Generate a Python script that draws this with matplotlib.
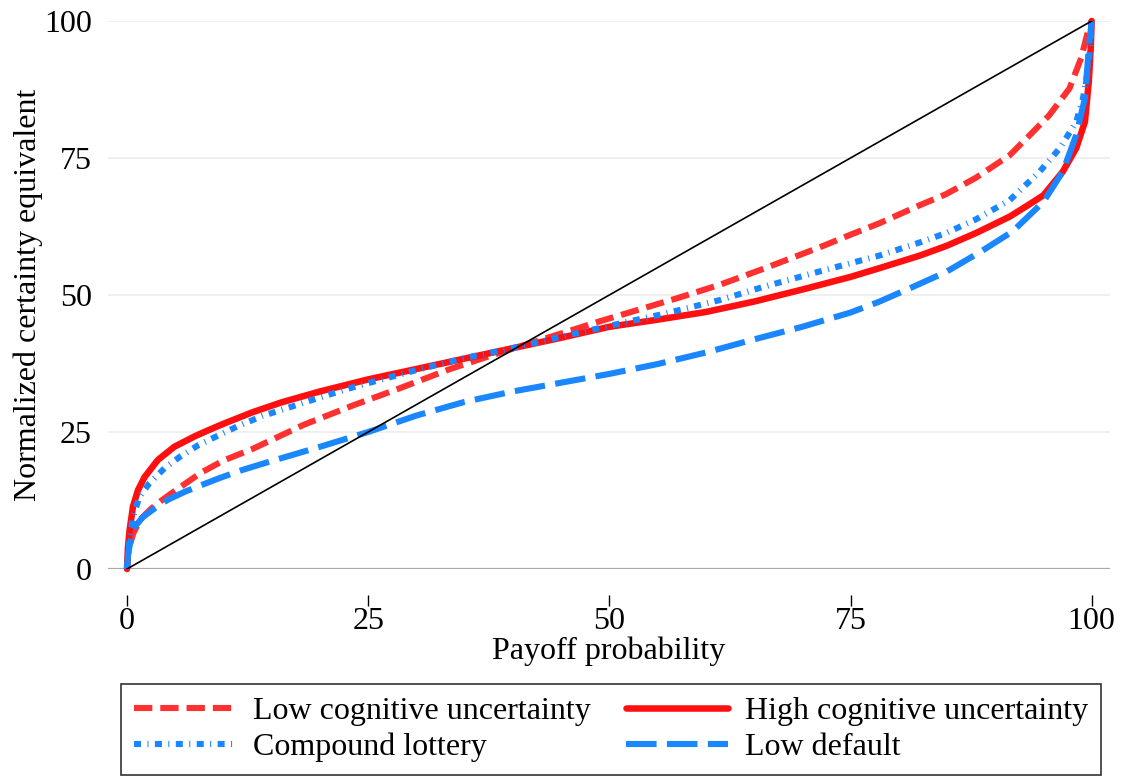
import matplotlib
matplotlib.use("Agg")
import matplotlib.pyplot as plt

# payoff probability (%) and normalized certainty equivalent, one pair per treatment
p_low = [0, 0.1, 0.25, 0.65, 1.35, 2.5, 3.5, 4.6, 6.3, 7.7, 10, 13, 18.3, 23.5, 28, 33.5,
         38.7, 43.8, 49, 53.2, 57, 61.5, 66, 71.8, 75, 78, 82.2, 84.9, 88, 91.5, 93.6,
         95.6, 97.7, 98.9, 99.6, 100]
ce_low = [0, 2.5, 4.1, 6.5, 9, 11, 12.4, 13.8, 15.9, 17.6, 19.8, 21.9, 26.3, 29.9, 32.8, 36.5,
          39.5, 42.3, 45.2, 47.4, 49.4, 51.9, 54.8, 58.7, 61, 63.1, 66.4, 68.4, 71.4, 75.5, 79.2,
          82.8, 87.7, 93.2, 98, 100]

p_high = [0, 0.1, 0.27, 0.62, 1.14, 1.83, 3.2, 4.9, 7, 8.4, 10, 13, 16, 20, 25, 30, 35, 40,
          45, 50, 55, 60, 65, 70, 75, 78, 82.2, 85, 88, 91.5, 93.5, 95, 97, 98.4, 99.3, 99.7,
          99.9, 100]
ce_high = [0, 4, 7.1, 11.4, 14.4, 16.8, 19.9, 22.3, 24.2, 25.3, 26.5, 28.6, 30.4, 32.4, 34.6,
           36.5, 38.4, 40.3, 42.2, 44.2, 45.5, 46.9, 48.8, 51.0, 53.3, 54.9, 57.2, 59.0, 61.3,
           64.3, 66.5, 68.2, 72.5, 76.8, 81.6, 88.9, 95, 100]

p_comp = [0, 0.1, 0.27, 0.62, 1.3, 2.3, 3.9, 5.5, 7.4, 9.5, 11.4, 14, 17.2, 20, 23.5, 30, 35,
          40, 45, 51.1, 56, 61.5, 66, 71.8, 78, 82.2, 84.9, 88, 91.5, 94.6, 96.7, 98.4, 99.1,
          99.6, 99.9, 100]
ce_comp = [0, 3, 5.3, 9.5, 13.2, 15.6, 18.4, 20.5, 22.6, 24.4, 26, 27.9, 29.7, 31.3, 33.2, 36.3,
           38.5, 40.3, 42.4, 44.8, 46.7, 49.1, 51.5, 54.3, 57.2, 59.6, 61.3, 63.8, 67.3, 72.5,
           76.8, 81.6, 85.9, 91, 96, 100]

p_def = [0, 0.1, 0.38, 0.8, 1.66, 2.9, 4.2, 6, 7.7, 9.6, 12, 14.8, 17.5, 20, 25, 30, 35, 40,
         45, 50, 55, 60, 65, 70, 75, 78, 81.5, 84.9, 88.4, 91.8, 95, 97, 98.4, 99.3, 99.7, 100]
ce_def = [0, 2.5, 5.3, 7.7, 9.5, 11.1, 12.6, 14.1, 15.3, 16.6, 18.1, 19.6, 21, 22.3, 25, 28.0,
          30.5, 32.4, 34.0, 35.6, 37.4, 39.5, 41.9, 44.2, 46.8, 48.8, 51.5, 54.2, 57.8, 61.6,
          67, 72.5, 79.2, 85.9, 95, 100]

labels = ["Low cognitive uncertainty", "High cognitive uncertainty",
          "Compound lottery", "Low default"]
ticks = [0, 25, 50, 75, 100]

red = "#ff3030"
red_solid = "#ff0f0f"
blue = "#1a86ff"
fs = 23

plt.rcParams['font.family'] = ['Liberation Serif', 'DejaVu Serif']

fig = plt.figure(figsize=(11.21, 7.78), dpi=100)
ax = fig.add_axes([108 / 1121, 1 - 569 / 778, 1002 / 1121, 548 / 778])

# gridlines
for t in ticks[1:]:
    ax.axhline(t, color="#ececec", lw=1.2, zorder=0)
ax.axhline(0, color="#a8a8a8", lw=1.6, zorder=0)

lw = 4.4
l_low, = ax.plot(p_low, ce_low, color=red, lw=lw, dashes=(3.0, 1.3),
                 dash_capstyle="butt", clip_on=False, zorder=2)
l_high, = ax.plot(p_high, ce_high, color=red_solid, lw=lw + 0.3, solid_capstyle="round",
                  solid_joinstyle="round", clip_on=False, zorder=2)
l_comp, = ax.plot(p_comp, ce_comp, color=blue, lw=lw, dashes=(1.15, 1.05, 0.17, 1.05),
                  dash_capstyle="butt", clip_on=False, zorder=3)
l_def, = ax.plot(p_def, ce_def, color=blue, lw=lw, dashes=(5.0, 1.7),
                 dash_capstyle="butt", clip_on=False, zorder=3)
ax.plot([0, 100], [0, 100], color="black", lw=1.2, zorder=4)

ax.set_xlim(-1.97, 101.9)
ax.set_ylim(0, 100)
ax.set_xticks(ticks)
ax.set_yticks(ticks)
for s in ax.spines.values():
    s.set_visible(False)
ax.spines["bottom"].set_position(("outward", 19))
ax.tick_params(axis="x", length=8, width=1, color="black", pad=0.5, labelsize=fs)
ax.tick_params(axis="y", length=0, pad=11.5, labelsize=fs)

ax.set_xlabel("Payoff probability", fontsize=fs)
ax.xaxis.label.set_va("baseline")
ax.xaxis.set_label_coords(0.5, (569 - 659) / 548)
ax.set_ylabel("Normalized certainty equivalent", fontsize=fs)
ax.yaxis.label.set_va("center")
ax.yaxis.set_label_coords((28 - 108) / 1002, 0.5)

handles = [l_low, l_comp, l_high, l_def]
leg_labels = [labels[0], labels[2], labels[1], labels[3]]
leg = fig.legend(handles, leg_labels, loc="lower left", ncol=2,
                 bbox_to_anchor=(121 / 1121, 3 / 778),
                 fontsize=fs, handlelength=3.2, handletextpad=0.53, columnspacing=1.1,
                 borderaxespad=0, borderpad=0.4, labelspacing=0.22,
                 frameon=True, fancybox=False, edgecolor="black")
leg.get_frame().set_linewidth(1.2)

fig.savefig("out.png", dpi=100)
